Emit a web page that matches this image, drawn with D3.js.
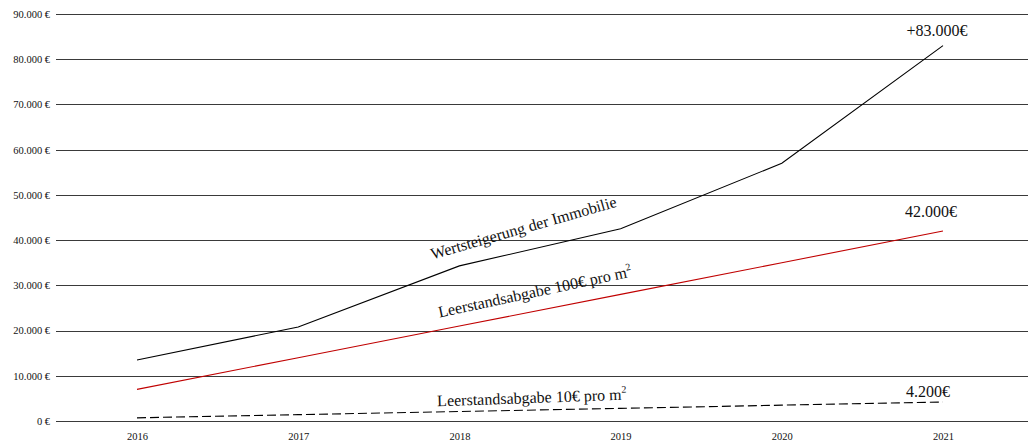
<!DOCTYPE html>
<html><head><meta charset="utf-8">
<script src="https://cdn.jsdelivr.net/npm/d3@7"></script>
<style>body{margin:0;background:#fff}svg{display:block}</style>
</head><body><svg id="c" width="1028" height="443"></svg>
<script>
const years = ["2016","2017","2018","2019","2020","2021"];
const wertsteigerung = [13500, 20800, 34300, 42500, 57000, 83000];
const abgabe100 = [7000, 14000, 21000, 28000, 35000, 42000];
const abgabe10 = [700, 1400, 2100, 2800, 3500, 4200];
const yTicks = [0,10000,20000,30000,40000,50000,60000,70000,80000,90000];
const endLabels = ["+83.000€", "42.000€", "4.200€"];

const FONT = "Liberation Serif";
const svg = d3.select("#c");
const x = d3.scalePoint().domain(years).range([137, 943]);
const y = d3.scaleLinear().domain([0, 90000]).range([421, 14]);
const fmt = v => d3.format(",")(v).replace(/,/g, ".") + " €";

const yAxis = svg.append("g").attr("transform","translate(56,0)")
  .call(d3.axisLeft(y).tickValues(yTicks).tickSize(-972).tickPadding(6).tickFormat(fmt));
yAxis.attr("font-family", FONT);
yAxis.select(".domain").remove();
yAxis.selectAll(".tick line").attr("stroke","#3a3a3a").attr("stroke-width",1).attr("shape-rendering","crispEdges");
yAxis.selectAll(".tick text").attr("font-size","10.5px").attr("fill","#111").attr("font-family",FONT);

const xAxis = svg.append("g").attr("transform","translate(0,421)")
  .call(d3.axisBottom(x).tickSize(0).tickPadding(12));
xAxis.attr("font-family", FONT);
xAxis.select(".domain").remove();
xAxis.selectAll(".tick text").attr("font-size","10.5px").attr("fill","#111").attr("font-family",FONT);

const line = d3.line().x((d,i)=>x(years[i])).y(d=>y(d));
svg.append("path").datum(wertsteigerung).attr("d",line).attr("fill","none").attr("stroke","#000").attr("stroke-width",1.1);
svg.append("path").datum(abgabe100).attr("d",line).attr("fill","none").attr("stroke","#c00000").attr("stroke-width",1.1);
svg.append("path").datum(abgabe10).attr("d",line).attr("fill","none").attr("stroke","#000").attr("stroke-width",1.1).attr("stroke-dasharray","9,4");

// end labels
const last = years[years.length-1];
const endVals = [wertsteigerung[5], abgabe100[5], abgabe10[5]];
const endOff = [-10, -14, -5];
const endDx = [-6, -12, -15];
endLabels.forEach((t,i)=>{
  svg.append("text").attr("x", x(last) + endDx[i]).attr("y", y(endVals[i]) + endOff[i])
    .attr("text-anchor","middle").attr("font-family",FONT).attr("font-size","16px").attr("fill","#111").text(t);
});

// rotated series labels
function seriesLabel(txt, sup, cx, cy, ang){
  const t = svg.append("text").attr("transform",`translate(${cx},${cy}) rotate(${ang})`)
    .attr("text-anchor","middle").attr("font-family",FONT).attr("font-size","16px").attr("fill","#111");
  t.append("tspan").text(txt);
  if (sup) { t.append("tspan").attr("dy",-7).attr("font-size","10px").text(sup); }
}
seriesLabel("Wertsteigerung der Immobilie", null, 525, 233, -16);
seriesLabel("Leerstandsabgabe 100€ pro m", "2", 536, 297, -12);
seriesLabel("Leerstandsabgabe 10€ pro m", "2", 532, 403, -2);
</script></body></html>
